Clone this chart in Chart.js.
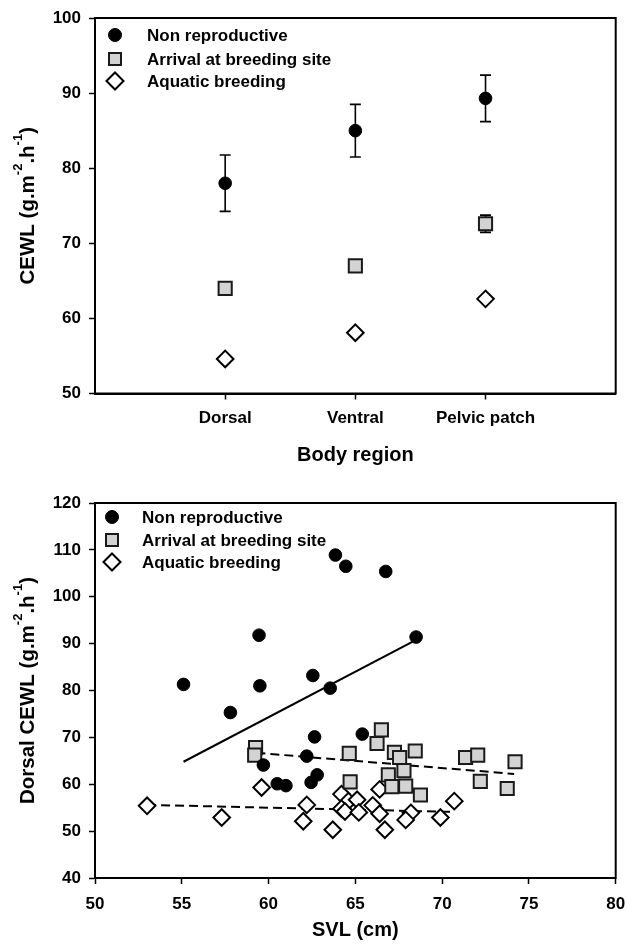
<!DOCTYPE html>
<html>
<head>
<meta charset="utf-8">
<script src="https://cdn.jsdelivr.net/npm/chart.js@4.4.1/dist/chart.umd.min.js"></script>
<style>
  html, body { margin: 0; padding: 0; background: #fff; }
  #top { position: absolute; left: 0; top: 0; width: 627px; height: 470px; }
  #bottom { position: absolute; left: 0; top: 470px; width: 627px; height: 478px; }
</style>
</head>
<body>
<div id="top"><canvas id="regionChart"></canvas></div>
<div id="bottom"><canvas id="svlChart"></canvas></div>
<script>
// groups and body regions
const groups = ['Non reproductive', 'Arrival at breeding site', 'Aquatic breeding'];
const regions = ['Dorsal', 'Ventral', 'Pelvic patch'];

// top panel: mean CEWL +- error per region
const nonReproMean = [78.0, 85.0, 89.3];
const nonReproErr = [3.75, 3.5, 3.1];
const arrivalMean = [64.0, 67.0, 72.6];
const arrivalErr = [0.5, 0.6, 1.15];
const aquaticMean = [54.6, 58.1, 62.6];
const aquaticErr = [0.4, 0.4, 0.4];

// bottom panel: dorsal CEWL vs SVL
const nonReproSVL = [55.1, 57.8, 59.45, 59.5, 62.55, 63.55, 62.65, 62.2, 59.7, 60.5, 61.0, 62.45, 62.8, 63.85, 64.45, 66.75, 68.5, 65.4];
const nonReproCEWL = [81.3, 75.3, 91.8, 81.0, 83.2, 80.5, 70.1, 66.0, 64.1, 60.1, 59.7, 60.4, 62.0, 108.9, 106.5, 105.4, 91.4, 70.7];
const arrivalSVL = [59.25, 59.2, 64.65, 64.7, 66.5, 66.25, 67.25, 67.55, 68.45, 66.9, 67.8, 67.1, 67.9, 68.75, 71.35, 72.05, 72.2, 73.75, 74.2];
const arrivalCEWL = [67.8, 66.2, 66.6, 60.5, 71.6, 68.7, 66.8, 65.7, 67.1, 62.0, 62.9, 59.5, 59.6, 57.7, 65.7, 66.2, 60.6, 59.1, 64.8];
const aquaticSVL = [53.0, 57.3, 59.6, 62.2, 62.0, 63.7, 64.2, 64.6, 64.2, 64.4, 65.1, 65.2, 66.0, 66.4, 66.4, 66.7, 68.2, 67.9, 69.9, 70.7];
const aquaticCEWL = [55.4, 52.9, 59.3, 55.6, 52.1, 50.3, 57.9, 56.4, 54.8, 54.2, 56.7, 54.0, 55.5, 58.9, 53.7, 50.3, 53.9, 52.4, 52.9, 56.4];

// regression line end points
const nonReproFitX = [55.1, 68.5];
const nonReproFitY = [64.8, 90.8];
const arrivalFitX = [59.3, 74.15];
const arrivalFitY = [66.7, 62.2];
const aquaticFitX = [53.0, 70.6];
const aquaticFitY = [55.6, 54.1];

const FONT = 'Liberation Sans, Arial, sans-serif';
const tickFont = { family: FONT, size: 17, weight: 'bold' };
const titleFont = { family: FONT, size: 20, weight: 'bold' };

const styles = [
    { pointStyle: 'circle', pointRadius: 6.3, backgroundColor: '#000', borderColor: '#000', borderWidth: 1 },
    { pointStyle: 'rect', pointRadius: 9.3, backgroundColor: '#d3d3d3', borderColor: '#1a1a1a', borderWidth: 2 },
    { pointStyle: 'rectRot', pointRadius: 8.3, backgroundColor: '#fff', borderColor: '#000', borderWidth: 2 }
];

const pts = (xs, ys) => xs.map((x, i) => ({ x: x, y: ys[i] }));

// box round the plot area
const framePlugin = {
    id: 'frame',
    afterDraw(chart) {
        const { ctx, chartArea: a } = chart;
        ctx.save();
        ctx.strokeStyle = '#000';
        ctx.lineWidth = 2;
        ctx.strokeRect(a.left, a.top, a.right - a.left, a.bottom - a.top);
        ctx.restore();
    }
};

// vertical error bars from dataset.errors
const errorBarPlugin = {
    id: 'errorBars',
    beforeDatasetsDraw(chart) {
        const { ctx, scales: { x, y } } = chart;
        ctx.save();
        ctx.strokeStyle = '#000';
        ctx.lineWidth = 1.6;
        chart.data.datasets.forEach(ds => {
            if (!ds.errors) return;
            ds.data.forEach((p, i) => {
                const px = x.getPixelForValue(p.x);
                const top = y.getPixelForValue(p.y + ds.errors[i]);
                const bot = y.getPixelForValue(p.y - ds.errors[i]);
                ctx.beginPath();
                ctx.moveTo(px, top); ctx.lineTo(px, bot);
                ctx.moveTo(px - 5.5, top); ctx.lineTo(px + 5.5, top);
                ctx.moveTo(px - 5.5, bot); ctx.lineTo(px + 5.5, bot);
                ctx.stroke();
            });
        });
        ctx.restore();
    }
};

// legend inside the plot, upper left
const insideLegendPlugin = {
    id: 'insideLegend',
    afterDraw(chart, args, opts) {
        const { ctx, chartArea: a } = chart;
        ctx.save();
        ctx.font = `bold ${opts.size}px ${FONT}`;
        ctx.textBaseline = 'middle';
        ctx.fillStyle = '#000';
        groups.forEach((g, i) => {
            const cx = a.left + opts.markerX;
            const cy = a.top + opts.rows[i];
            const s = styles[i];
            ctx.beginPath();
            if (i === 0) {
                ctx.arc(cx, cy, 6.5, 0, Math.PI * 2);
            } else if (i === 1) {
                ctx.rect(cx - 6, cy - 6, 12, 12);
            } else {
                ctx.moveTo(cx - 8.5, cy); ctx.lineTo(cx, cy - 8.5);
                ctx.lineTo(cx + 8.5, cy); ctx.lineTo(cx, cy + 8.5);
                ctx.closePath();
            }
            ctx.fillStyle = s.backgroundColor;
            ctx.fill();
            ctx.lineWidth = s.borderWidth;
            ctx.strokeStyle = s.borderColor;
            ctx.stroke();
            ctx.fillStyle = '#000';
            ctx.fillText(g, a.left + opts.textX, cy + 1);
        });
        ctx.restore();
    }
};

// rotated y title with superscripts
const yTitlePlugin = {
    id: 'yTitle',
    afterDraw(chart, args, opts) {
        const { ctx, chartArea: a } = chart;
        const size = 20.5, sup = 13;
        const parts = [[opts.prefix + ' (g.m', false], ['-2', true], ['.h', false], ['-1', true], [')', false]];
        ctx.save();
        ctx.translate(opts.x, (a.top + a.bottom) / 2);
        ctx.rotate(-Math.PI / 2);
        ctx.fillStyle = '#000';
        ctx.textBaseline = 'middle';
        let total = 0;
        parts.forEach(([t, s]) => {
            ctx.font = `bold ${s ? sup : size}px ${FONT}`;
            total += ctx.measureText(t).width;
        });
        let cur = -total / 2;
        parts.forEach(([t, s]) => {
            ctx.font = `bold ${s ? sup : size}px ${FONT}`;
            ctx.fillText(t, cur, s ? -9.5 : 0);
            cur += ctx.measureText(t).width;
        });
        ctx.restore();
    }
};

const gridOpts = { drawOnChartArea: false, drawTicks: true, tickLength: 6, color: '#000', tickWidth: 1.5 };
const borderOpts = { color: '#000', width: 2 };

// keep the plot edges fixed whatever the tick label widths
const fixX = h => s => { s.height = h; s.paddingLeft = 0; s.paddingRight = 0; };
const fixY = s => { s.width = 95; s.paddingTop = 0; s.paddingBottom = 0; };

// top panel
new Chart(document.getElementById('regionChart'), {
    type: 'scatter',
    data: {
        datasets: [
            { label: groups[0], data: regions.map((r, i) => ({ x: i + 1, y: nonReproMean[i] })), errors: nonReproErr, ...styles[0] },
            { label: groups[1], data: regions.map((r, i) => ({ x: i + 1, y: arrivalMean[i] })), errors: arrivalErr, ...styles[1] },
            { label: groups[2], data: regions.map((r, i) => ({ x: i + 1, y: aquaticMean[i] })), errors: aquaticErr, ...styles[2] }
        ]
    },
    options: {
        responsive: true,
        maintainAspectRatio: false,
        animation: false,
        layout: { padding: { top: 18, right: 10, left: 0, bottom: 0 } },
        plugins: {
            legend: { display: false },
            tooltip: { enabled: false },
            insideLegend: { markerX: 20, textX: 52, rows: [17, 41, 63], size: 17 },
            yTitle: { x: 28, prefix: 'CEWL' }
        },
        scales: {
            x: {
                type: 'linear', min: 0, max: 4,
                afterBuildTicks: s => { s.ticks = [1, 2, 3].map(v => ({ value: v })); },
                afterFit: fixX(76.5),
                ticks: { callback: v => regions[v - 1], font: tickFont, color: '#000', padding: 9, maxRotation: 0, autoSkip: false },
                grid: gridOpts,
                border: borderOpts,
                title: { display: true, text: 'Body region', font: titleFont, color: '#000', padding: { top: 0, bottom: 3 } }
            },
            y: {
                min: 50, max: 100,
                afterFit: fixY,
                ticks: { stepSize: 10, font: tickFont, color: '#000', padding: 8 },
                grid: gridOpts,
                border: borderOpts
            }
        }
    },
    plugins: [errorBarPlugin, framePlugin, insideLegendPlugin, yTitlePlugin]
});

// bottom panel
const fitLine = (data, dash) => ({
    data: data, showLine: true, pointRadius: 0, borderColor: '#000', borderWidth: 2,
    borderDash: dash, order: 10
});

new Chart(document.getElementById('svlChart'), {
    type: 'scatter',
    data: {
        datasets: [
            fitLine(pts(nonReproFitX, nonReproFitY), []),
            fitLine(pts(arrivalFitX, arrivalFitY), [9, 5]),
            fitLine(pts(aquaticFitX, aquaticFitY), [9, 5]),
            { label: groups[2], data: pts(aquaticSVL, aquaticCEWL), order: 3, ...styles[2] },
            { label: groups[1], data: pts(arrivalSVL, arrivalCEWL), order: 2, ...styles[1] },
            { label: groups[0], data: pts(nonReproSVL, nonReproCEWL), order: 1, ...styles[0] }
        ]
    },
    options: {
        responsive: true,
        maintainAspectRatio: false,
        animation: false,
        layout: { padding: { top: 33, right: 10, left: 0, bottom: 0 } },
        plugins: {
            legend: { display: false },
            tooltip: { enabled: false },
            insideLegend: { markerX: 17, textX: 47, rows: [14, 37, 59], size: 17 },
            yTitle: { x: 28, prefix: 'Dorsal CEWL' }
        },
        scales: {
            x: {
                type: 'linear', min: 50, max: 80,
                afterFit: fixX(70),
                ticks: { stepSize: 5, font: tickFont, color: '#000', padding: 10, maxRotation: 0 },
                grid: gridOpts,
                border: borderOpts,
                title: { display: true, text: 'SVL (cm)', font: titleFont, color: '#000', padding: { top: 0, bottom: 6 } }
            },
            y: {
                min: 40, max: 120,
                afterFit: fixY,
                ticks: { stepSize: 10, font: tickFont, color: '#000', padding: 8 },
                grid: gridOpts,
                border: borderOpts
            }
        }
    },
    plugins: [framePlugin, insideLegendPlugin, yTitlePlugin]
});
</script>
</body>
</html>
